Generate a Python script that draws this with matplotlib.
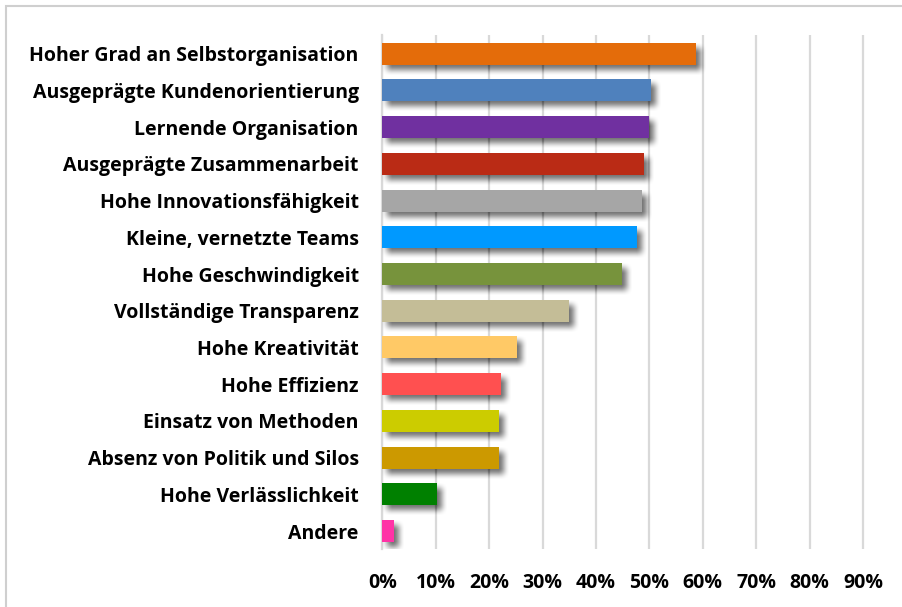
import matplotlib.pyplot as plt
import matplotlib.patheffects as pe
from matplotlib.patches import Rectangle
from matplotlib.ticker import PercentFormatter

labels = [
    'Hoher Grad an Selbstorganisation',
    'Ausgeprägte Kundenorientierung',
    'Lernende Organisation',
    'Ausgeprägte Zusammenarbeit',
    'Hohe Innovationsfähigkeit',
    'Kleine, vernetzte Teams',
    'Hohe Geschwindigkeit',
    'Vollständige Transparenz',
    'Hohe Kreativität',
    'Hohe Effizienz',
    'Einsatz von Methoden',
    'Absenz von Politik und Silos',
    'Hohe Verlässlichkeit',
    'Andere',
]
values = [0.587, 0.503, 0.499, 0.490, 0.486, 0.477, 0.449,
          0.350, 0.252, 0.222, 0.218, 0.218, 0.102, 0.022]
colors = ['#E46C0A', '#4F81BD', '#7030A0', '#BA2B15', '#A6A6A6', '#0099FF',
          '#77933C', '#C4BD97', '#FFC966', '#FF5050', '#CCCC00', '#CC9900',
          '#008000', '#FF33A6']
ticks = [0, 0.1, 0.2, 0.3, 0.4, 0.5, 0.6, 0.7, 0.8, 0.9]

plt.rcParams['font.family'] = ['Open Sans', 'DejaVu Sans']

fig = plt.figure(figsize=(9.02, 6.07), dpi=100)
W, H = 902, 607

# light frame of the chart area (runs off the right/bottom edge)
fig.patches.append(Rectangle((6 / W, -0.1), 1.2, 1 - 6 / H + 0.1,
                             transform=fig.transFigure, fill=False,
                             edgecolor='#CFCFCF', linewidth=1.5))

ax = fig.add_axes([382.3 / W, 1 - 549.4 / H, 534 / W, 514 / H])

y = list(range(len(labels)))
bars = ax.barh(y, values, height=0.6, color=colors, zorder=3)

# soft drop shadow: many faint offset copies ~ blur
shadow = []
for dx in range(-1, 13):
    for dy in range(-1, 13):
        d = ((dx - 5) ** 2 + (dy - 5) ** 2) ** 0.5
        a = 0.011 * max(0.0, 1 - d / 7.0)
        if a > 0.001:
            shadow.append(pe.SimplePatchShadow(offset=(dx * 0.72, -dy * 0.72),
                                               shadow_rgbFace='black', alpha=a))
shadow.append(pe.Normal())
for b in bars:
    b.set_path_effects(shadow)

ax.set_ylim(len(labels) - 0.5, -0.5)
ax.set_xlim(0, 1.0)
ax.set_xticks(ticks)
ax.xaxis.set_major_formatter(PercentFormatter(1.0, decimals=0))
ax.set_yticks(y)
ax.set_yticklabels(labels)

ax.grid(axis='x', color='#D9D9D9', linewidth=1.6, zorder=0)
ax.set_axisbelow(True)
for s in ['top', 'right', 'bottom']:
    ax.spines[s].set_visible(False)
ax.spines['left'].set_color('#D9D9D9')
ax.spines['left'].set_linewidth(1.6)

ax.tick_params(axis='y', length=0, pad=17, labelsize=14)
ax.tick_params(axis='x', length=0, pad=17, labelsize=14)
for t in ax.get_yticklabels() + ax.get_xticklabels():
    t.set_fontweight('bold')

fig.savefig('out.png', dpi=100)
